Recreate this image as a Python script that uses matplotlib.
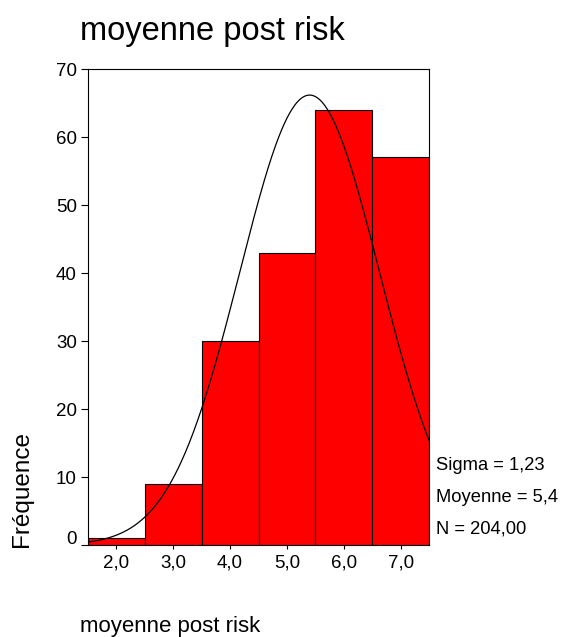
import numpy as np
import matplotlib
matplotlib.use("Agg")
import matplotlib.pyplot as plt
import matplotlib.transforms as mtransforms

plt.rcParams['font.family'] = ['Liberation Sans', 'DejaVu Sans']

# histogram data (bin centres and counts)
bins = [2.0, 3.0, 4.0, 5.0, 6.0, 7.0]
counts = [1, 9, 30, 43, 64, 57]
tick_labels = ['2,0', '3,0', '4,0', '5,0', '6,0', '7,0']

# fitted normal curve parameters shown on the chart
sigma = 1.23
moyenne = 5.4
n_total = 204
bin_width = 1.0

fig = plt.figure(figsize=(5.65, 6.37), dpi=100)
ax = fig.add_axes([88/565, 1-545/637, (429-88)/565, (545-69)/637])

ax.bar(bins, counts, width=bin_width, color='#ff0000', edgecolor='black', linewidth=0.8)

# normal curve over the axis range
xs = np.linspace(1.5, 7.5, 400)
ys = n_total*bin_width/(sigma*np.sqrt(2*np.pi))*np.exp(-0.5*((xs-moyenne)/sigma)**2)
ax.plot(xs, ys, color='black', linewidth=0.9)

ax.set_xlim(1.5, 7.5)
ax.set_ylim(0, 70)
ax.set_xticks(bins)
ax.set_xticklabels(tick_labels)
ax.set_yticks([0, 10, 20, 30, 40, 50, 60, 70])
ax.tick_params(axis='y', direction='out', length=5, width=0.8, labelsize=13.5, pad=3)
ax.tick_params(axis='x', direction='out', length=3, width=0.8, labelsize=13.5, pad=4)
for s in ax.spines.values():
    s.set_linewidth(0.8)

# SPSS puts the 0 label a bit higher
lab0 = ax.get_yticklabels()[0]
lab0.set_transform(lab0.get_transform() + mtransforms.ScaledTranslation(0, 7/100, fig.dpi_scale_trans))

fig.text(80/565, 1-40/637, 'moyenne post risk', fontsize=23.5, ha='left', va='baseline')
fig.text(80/565, 1-632/637, 'moyenne post risk', fontsize=16, ha='left', va='baseline')
fig.text(11/565, 1-547/637, 'Fréquence', fontsize=17.5, rotation=90, ha='left', va='bottom')

fig.text(436/565, 1-465/637, 'Sigma = %s' % ('%.2f' % sigma).replace('.', ','), fontsize=13.2, va='center')
fig.text(436/565, 1-497/637, 'Moyenne = %s' % ('%.1f' % moyenne).replace('.', ','), fontsize=13.2, va='center')
fig.text(436/565, 1-529/637, 'N = %s' % ('%.2f' % n_total).replace('.', ','), fontsize=13.2, va='center')

fig.savefig('out.png', dpi=100)
